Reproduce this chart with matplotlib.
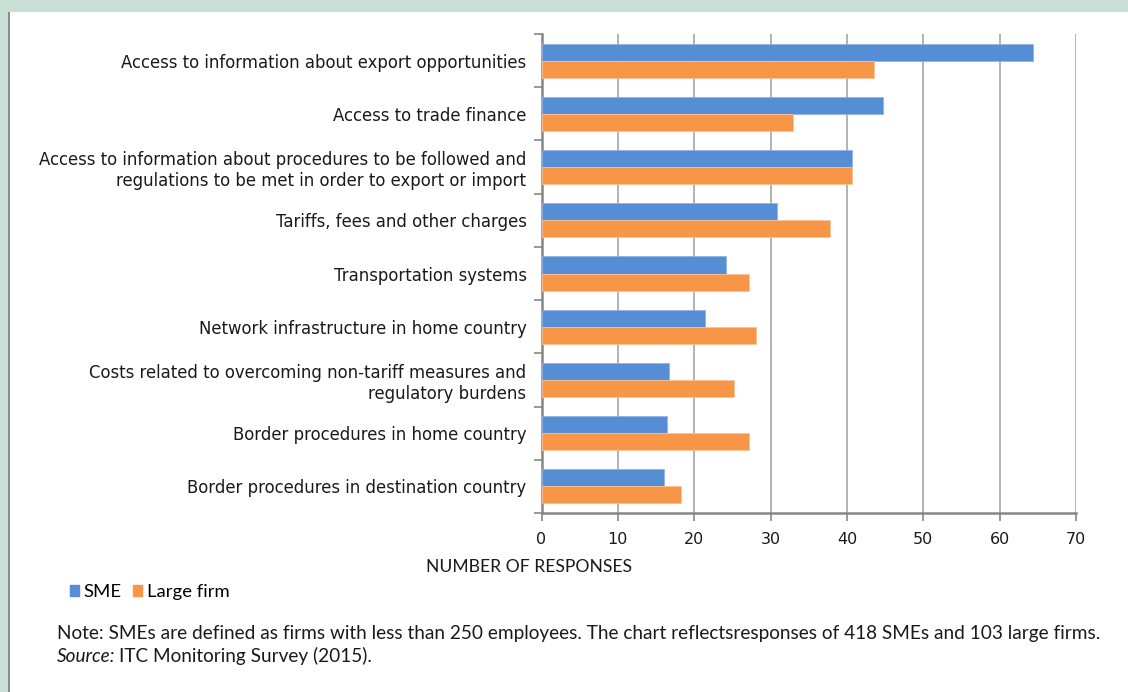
import matplotlib
matplotlib.use("Agg")
import matplotlib.pyplot as plt
from matplotlib.patches import Rectangle
import numpy as np

categories = [
    "Access to information about export opportunities",
    "Access to trade finance",
    "Access to information about procedures to be followed and\nregulations to be met in order to export or import",
    "Tariffs, fees and other charges",
    "Transportation systems",
    "Network infrastructure in home country",
    "Costs related to overcoming non-tariff measures and\nregulatory burdens",
    "Border procedures in home country",
    "Border procedures in destination country",
]
sme = [64.4, 44.7, 40.6, 30.8, 24.1, 21.4, 16.7, 16.4, 16.0]
large = [43.6, 32.9, 40.7, 37.8, 27.2, 28.1, 25.2, 27.2, 18.3]
series_names = ["SME", "Large firm"]
xticks = [0, 10, 20, 30, 40, 50, 60, 70]

BLUE = "#558ed5"
ORANGE = "#f79646"
GRID = "#a6a6a6"
AXIS = "#868686"
TXT = "#1a1a1a"

fig = plt.figure(figsize=(11.28, 6.92), dpi=100)
fig.patch.set_facecolor("white")

# frame decorations
fig.patches.append(Rectangle((0, 1 - 12 / 692), 1, 12 / 692, transform=fig.transFigure,
                             facecolor="#c9ded5", edgecolor="none", zorder=0))
fig.patches.append(Rectangle((0, 0), 8 / 1128, 1, transform=fig.transFigure,
                             facecolor="#c9ded5", edgecolor="none", zorder=0))
fig.patches.append(Rectangle((8 / 1128, 0), 2 / 1128, 1 - 12 / 692, transform=fig.transFigure,
                             facecolor="#8c8c8c", edgecolor="none", zorder=0))

ax = fig.add_axes([541.5 / 1128, 1 - 513 / 692, (1076 - 541.5) / 1128, (513 - 34) / 692])
n = len(categories)
y = np.arange(n)
h = 0.32
ax.barh(y - h / 2, sme, height=h, color=BLUE, edgecolor="#8fb3e3", linewidth=0.6, zorder=3, label=series_names[0])
ax.barh(y + h / 2, large, height=h, color=ORANGE, edgecolor="#fbc09a", linewidth=0.6, zorder=3, label=series_names[1])
ax.set_ylim(n - 0.5, -0.5)
ax.set_xlim(0, 70)

ax.set_xticks(xticks)
ax.set_xticklabels([str(t) for t in xticks], fontsize=11.5, family="DejaVu Sans", color=TXT)
ax.set_yticks(np.arange(n + 1) - 0.5)
ax.set_yticklabels([])
ax.set_yticks(y, minor=True)
ax.set_yticklabels(categories, minor=True, fontsize=11.9, family="DejaVu Sans", color=TXT, ha="right",
                   linespacing=1.2)
ax.tick_params(axis="y", which="minor", length=0, pad=10.8)
ax.tick_params(axis="y", which="major", length=6, color=AXIS, width=1.2)
ax.tick_params(axis="x", length=6, color=AXIS, width=1.2, pad=8)
ax.xaxis.grid(True, color=GRID, linewidth=1.2, zorder=0)
ax.set_axisbelow(True)
for s in ["top", "right"]:
    ax.spines[s].set_visible(False)
for s in ["left", "bottom"]:
    ax.spines[s].set_color(AXIS)
    ax.spines[s].set_linewidth(1.8)

fig.text(529 / 1128, 1 - 567 / 692, "NUMBER OF RESPONSES", ha="center", va="center",
         fontsize=12.6, family="Lato", color=TXT)

handles = [Rectangle((0, 0), 1, 1, color=BLUE), Rectangle((0, 0), 1, 1, color=ORANGE)]
fig.legend(handles, series_names, loc="center left", bbox_to_anchor=(70 / 1128, 1 - 592 / 692),
           frameon=False, ncol=2, prop={"family": "Lato", "size": 13.3},
           handlelength=0.5, handleheight=0.5, handletextpad=0.25, columnspacing=0.6,
           borderpad=0, borderaxespad=0)

fig.text(57 / 1128, 1 - 634 / 692,
         "Note: SMEs are defined as firms with less than 250 employees. The chart reflectsresponses of 418 SMEs and 103 large firms.",
         ha="left", va="center", fontsize=13.7, family="Lato", color=TXT)
t1 = fig.text(57 / 1128, 1 - 656 / 692, "Source:", ha="left", va="center", fontsize=13.7,
              family="Lato", style="italic", color=TXT)
renderer = fig.canvas.get_renderer()
bb = t1.get_window_extent(renderer=renderer)
fig.text((bb.x1 + 4) / 1128, 1 - 656 / 692, "ITC Monitoring Survey (2015).", ha="left", va="center",
         fontsize=13.7, family="Lato", color=TXT)

fig.savefig("out.png", dpi=100)
